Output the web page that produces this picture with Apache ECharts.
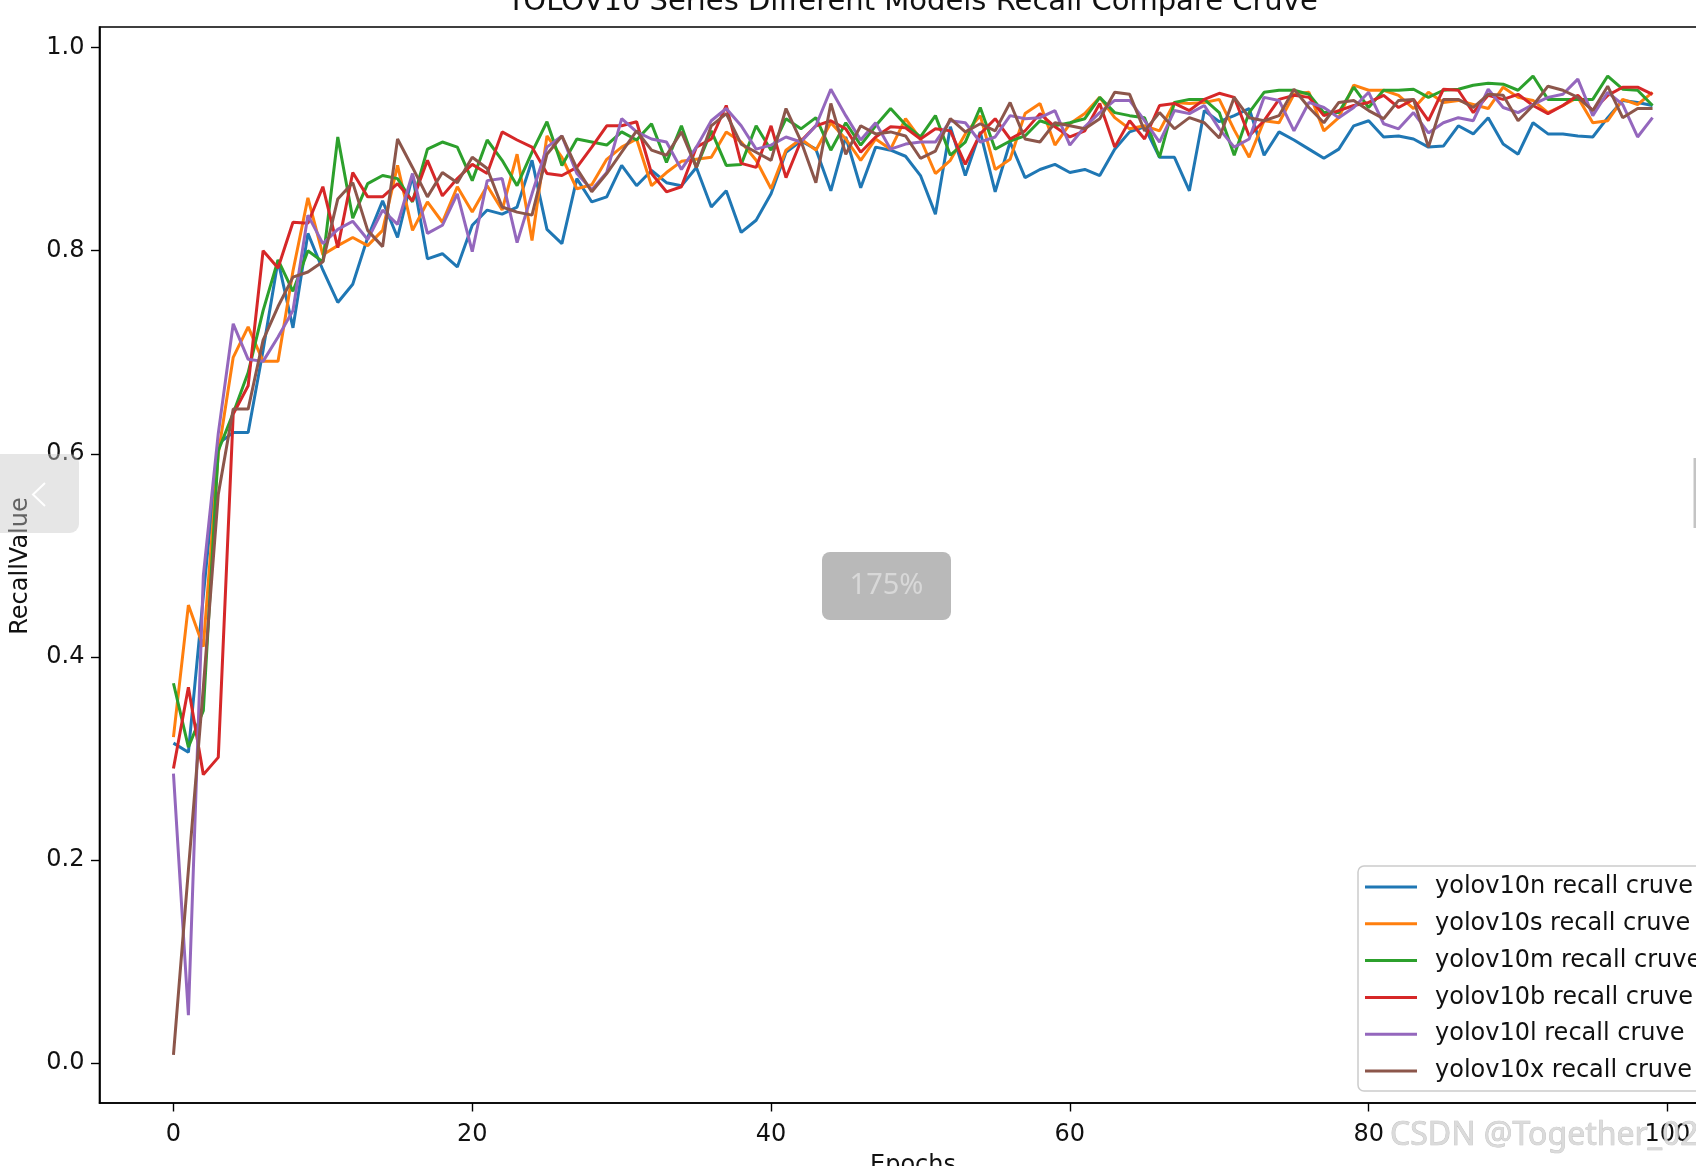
<!DOCTYPE html>
<html><head><meta charset="utf-8">
<script src="https://cdn.jsdelivr.net/npm/echarts@6/dist/echarts.min.js"></script>
<style>html,body{margin:0;padding:0;background:#fff;overflow:hidden}#c{width:1696px;height:1166px;}</style>
</head><body><div id="c"></div>
<script>
const chartTitle = 'YOLOV10 Series Different Models Recall Compare Cruve';
const xTicks = [0, 20, 40, 60, 80, 100];
const yTicks = [0, 0.2, 0.4, 0.6, 0.8, 1.0];
const seriesNames = ['yolov10n recall cruve','yolov10s recall cruve','yolov10m recall cruve','yolov10b recall cruve','yolov10l recall cruve','yolov10x recall cruve'];
const seriesColors = ['#1f77b4','#ff7f0e','#2ca02c','#d62728','#9467bd','#8c564b'];

const yolov10n = [0.315,0.306,0.460,0.610,0.621,0.621,0.702,0.790,0.724,0.817,
0.781,0.749,0.767,0.813,0.849,0.813,0.874,0.792,0.797,0.784,
0.825,0.840,0.836,0.843,0.889,0.821,0.807,0.871,0.848,0.853,
0.884,0.864,0.879,0.867,0.864,0.882,0.843,0.859,0.818,0.830,
0.856,0.897,0.908,0.900,0.859,0.912,0.862,0.902,0.899,0.893,
0.874,0.836,0.922,0.874,0.917,0.858,0.907,0.872,0.880,0.885,
0.877,0.880,0.874,0.900,0.917,0.922,0.892,0.892,0.859,0.938,
0.927,0.933,0.940,0.894,0.917,0.909,0.900,0.891,0.900,0.923,
0.928,0.912,0.913,0.910,0.902,0.903,0.923,0.915,0.931,0.905,
0.895,0.926,0.915,0.915,0.913,0.912,0.931,0.948,0.946,0.943];

const yolov10s = [0.321,0.451,0.410,0.600,0.695,0.725,0.691,0.691,0.780,0.852,
0.796,0.805,0.813,0.805,0.820,0.884,0.820,0.848,0.828,0.863,
0.838,0.864,0.840,0.895,0.810,0.913,0.892,0.861,0.865,0.890,
0.902,0.910,0.864,0.877,0.888,0.890,0.892,0.917,0.907,0.889,
0.861,0.899,0.910,0.899,0.926,0.910,0.889,0.910,0.900,0.930,
0.910,0.876,0.889,0.915,0.933,0.880,0.890,0.935,0.945,0.904,
0.925,0.935,0.951,0.931,0.920,0.923,0.918,0.946,0.945,0.946,
0.949,0.919,0.892,0.928,0.926,0.954,0.956,0.918,0.931,0.963,
0.958,0.958,0.953,0.940,0.956,0.946,0.948,0.944,0.940,0.961,
0.951,0.948,0.936,0.943,0.951,0.926,0.928,0.949,0.944,0.956];

const yolov10m = [0.374,0.311,0.347,0.603,0.640,0.680,0.741,0.791,0.760,0.800,
0.789,0.912,0.832,0.866,0.874,0.871,0.848,0.900,0.907,0.902,
0.869,0.909,0.889,0.864,0.897,0.927,0.884,0.910,0.907,0.904,
0.917,0.909,0.925,0.887,0.923,0.882,0.918,0.884,0.885,0.923,
0.899,0.930,0.920,0.931,0.899,0.926,0.904,0.923,0.940,0.924,
0.912,0.933,0.894,0.907,0.941,0.900,0.908,0.913,0.928,0.923,
0.926,0.930,0.951,0.936,0.933,0.931,0.892,0.946,0.949,0.949,
0.936,0.894,0.936,0.956,0.958,0.958,0.954,0.936,0.936,0.961,
0.941,0.958,0.958,0.959,0.951,0.958,0.959,0.963,0.965,0.964,
0.958,0.972,0.949,0.949,0.949,0.949,0.972,0.959,0.958,0.943];

const yolov10b = [0.290,0.370,0.284,0.301,0.639,0.667,0.800,0.783,0.828,0.827,
0.863,0.803,0.877,0.853,0.853,0.866,0.849,0.889,0.854,0.871,
0.885,0.876,0.917,0.909,0.902,0.876,0.874,0.882,0.902,0.923,
0.923,0.927,0.876,0.858,0.863,0.902,0.910,0.943,0.886,0.882,
0.923,0.872,0.908,0.923,0.928,0.920,0.897,0.912,0.922,0.921,
0.910,0.920,0.918,0.885,0.915,0.930,0.910,0.918,0.935,0.922,
0.912,0.918,0.945,0.902,0.928,0.910,0.943,0.945,0.938,0.949,
0.955,0.951,0.913,0.928,0.949,0.953,0.951,0.933,0.938,0.943,
0.946,0.953,0.941,0.949,0.928,0.959,0.958,0.936,0.953,0.949,
0.954,0.943,0.935,0.943,0.953,0.938,0.953,0.961,0.961,0.954];

const yolov10l = [0.285,0.047,0.480,0.620,0.728,0.693,0.691,0.715,0.741,0.835,
0.807,0.821,0.829,0.811,0.840,0.826,0.876,0.817,0.825,0.856,
0.799,0.869,0.871,0.808,0.856,0.902,0.913,0.876,0.860,0.877,
0.930,0.917,0.910,0.907,0.880,0.902,0.928,0.940,0.923,0.900,
0.904,0.912,0.907,0.923,0.959,0.933,0.909,0.926,0.900,0.905,
0.907,0.907,0.928,0.926,0.907,0.912,0.933,0.930,0.931,0.938,
0.904,0.922,0.936,0.948,0.948,0.928,0.907,0.938,0.935,0.943,
0.920,0.902,0.910,0.951,0.948,0.918,0.946,0.941,0.931,0.941,
0.956,0.925,0.920,0.936,0.916,0.926,0.931,0.928,0.959,0.941,
0.936,0.944,0.951,0.954,0.969,0.933,0.956,0.944,0.912,0.931];

const yolov10x = [0.008,0.190,0.370,0.560,0.644,0.644,0.712,0.745,0.774,0.779,
0.789,0.851,0.867,0.820,0.804,0.910,0.882,0.853,0.877,0.867,
0.892,0.881,0.843,0.838,0.835,0.895,0.913,0.881,0.858,0.876,
0.897,0.918,0.899,0.894,0.917,0.882,0.923,0.935,0.905,0.897,
0.889,0.940,0.908,0.867,0.945,0.895,0.923,0.915,0.917,0.913,
0.891,0.898,0.930,0.917,0.925,0.918,0.946,0.910,0.907,0.926,
0.923,0.920,0.930,0.956,0.954,0.918,0.936,0.920,0.931,0.926,
0.911,0.951,0.931,0.928,0.933,0.959,0.941,0.926,0.946,0.948,
0.938,0.930,0.948,0.949,0.902,0.949,0.949,0.941,0.954,0.953,
0.928,0.943,0.962,0.958,0.951,0.938,0.962,0.931,0.940,0.940];

const allSeries = [yolov10n, yolov10s, yolov10m, yolov10b, yolov10l, yolov10x];
const FONT = 'DejaVu Sans';

const chart = echarts.init(document.getElementById('c'), null, {renderer: 'canvas', width: 1696, height: 1166});
chart.setOption({
  animation: false,
  backgroundColor: '#ffffff',
  grid: {
    left: 99.5, top: 27, width: 1627, height: 1076,
    show: true, borderColor: '#000', borderWidth: 1.6, backgroundColor: 'transparent',
    containLabel: false, outerBoundsMode: 'none'
  },
  xAxis: {
    type: 'value', min: -4.95, max: 103.95, position: 'bottom',
    splitLine: {show: false},
    axisLine: {show: true, onZero: false, lineStyle: {color: '#000', width: 1.6}},
    axisTick: {show: true, inside: false, length: 8.5, lineStyle: {color: '#000', width: 1.4}, customValues: xTicks},
    axisLabel: {customValues: xTicks, fontFamily: FONT, fontSize: 24, color: '#111', margin: 20},
    name: 'Epochs', nameLocation: 'middle', nameGap: 51,
    nameTextStyle: {fontFamily: FONT, fontSize: 24, color: '#111', verticalAlign: 'top'}
  },
  yAxis: {
    type: 'value', min: -0.0394, max: 1.0203, position: 'left',
    splitLine: {show: false},
    axisLine: {show: true, onZero: false, lineStyle: {color: '#000', width: 1.6}},
    axisTick: {show: true, inside: false, length: 8.5, lineStyle: {color: '#000', width: 1.4}, customValues: yTicks},
    axisLabel: {customValues: yTicks, fontFamily: FONT, fontSize: 24, color: '#111', margin: 15,
      formatter: v => v.toFixed(1)}
  },
  legend: {
    orient: 'vertical', left: 1358, top: 866,
    padding: [9, 8, 8, 7], itemGap: 12.8, itemWidth: 52, itemHeight: 3,
    icon: 'rect',
    backgroundColor: 'rgba(255,255,255,0.85)', borderColor: '#cccccc', borderWidth: 1.5, borderRadius: 6,
    textStyle: {fontFamily: FONT, fontSize: 24, color: '#111', lineHeight: 24, padding: [0, 0, 0, 13]},
    data: seriesNames
  },
  series: allSeries.map((arr, k) => ({
    name: seriesNames[k], type: 'line', showSymbol: false, symbol: 'none',
    color: seriesColors[k],
    lineStyle: {width: 3, color: seriesColors[k]},
    data: arr.map((v, i) => [i, v])
  })),
  graphic: [
    {type: 'text', x: 912.5, y: 2.5, z: 100,
      style: {text: chartTitle, fontFamily: FONT, fontSize: 29, fill: '#111', align: 'center', verticalAlign: 'middle'}},
    {type: 'text', x: 20.5, y: 566, rotation: Math.PI / 2, z: 100,
      style: {text: 'RecallValue', fontFamily: FONT, fontSize: 24, fill: '#111', align: 'center', verticalAlign: 'middle'}},
    {type: 'rect', shape: {x: -10, y: 454, width: 89, height: 79, r: 9}, z: 110,
      style: {fill: 'rgba(200,200,200,0.45)'}},
    {type: 'polyline', shape: {points: [[45, 483], [33, 494.5], [45, 506]]}, z: 111,
      style: {stroke: '#ffffff', lineWidth: 2, fill: null}},
    {type: 'rect', shape: {x: 822, y: 552, width: 129, height: 68, r: 8}, z: 110,
      style: {fill: '#b9b9b9'}},
    {type: 'text', x: 886.5, y: 586, z: 111,
      style: {text: '175%', fontFamily: 'Noto Sans', fontSize: 29, fill: '#d8d8d8', align: 'center', verticalAlign: 'middle'}},
    {type: 'rect', shape: {x: 1693.5, y: 458, width: 3, height: 70}, z: 110,
      style: {fill: '#c4c4c4'}},
    {type: 'text', x: 1390, y: 1136, z: 120,
      style: {text: 'CSDN @Together_02', fontFamily: 'Noto Sans', fontSize: 32, fill: 'rgba(215,215,215,0.9)',
        stroke: 'rgba(140,140,140,0.55)', lineWidth: 0.7, align: 'left', verticalAlign: 'middle'}}
  ]
});
</script></body></html>
